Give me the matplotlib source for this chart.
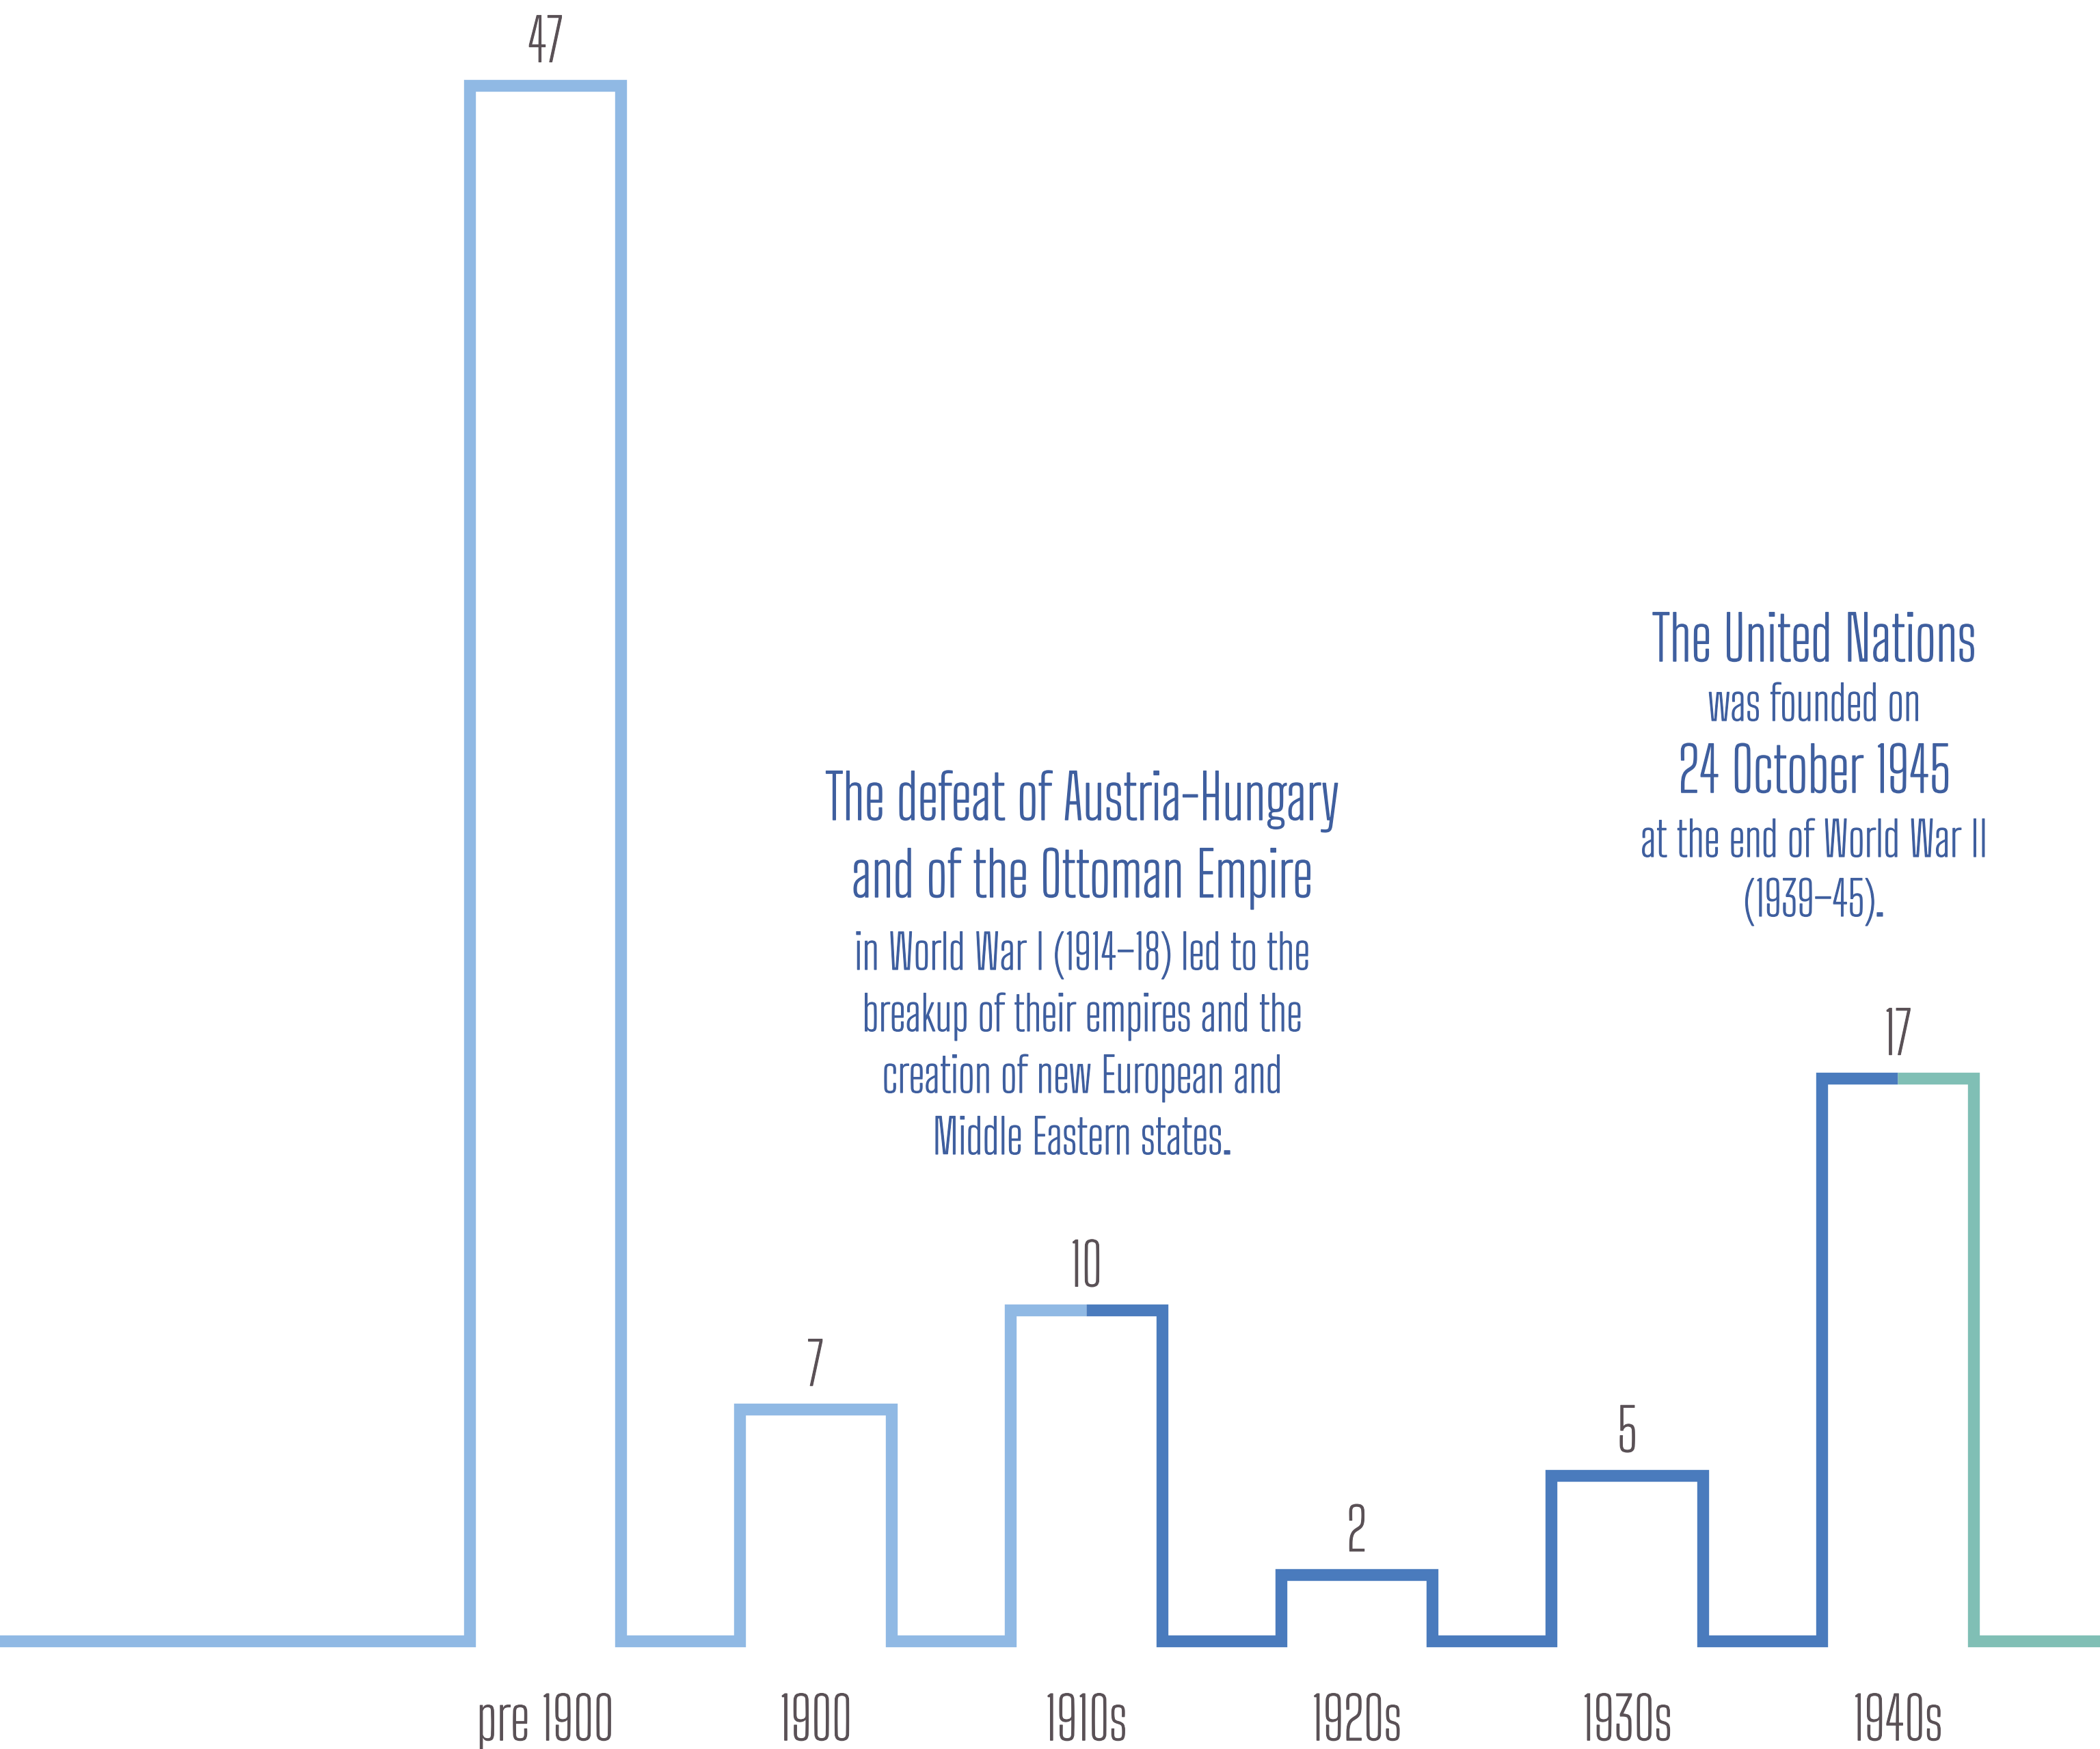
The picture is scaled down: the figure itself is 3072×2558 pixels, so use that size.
import matplotlib
matplotlib.use('Agg')
import matplotlib.pyplot as plt
import matplotlib.patheffects as pe
from matplotlib import font_manager
from matplotlib.font_manager import FontProperties
from matplotlib.textpath import TextPath

categories = ['pre 1900', '1900', '1910s', '1920s', '1930s', '1940s']
values = [47, 7, 10, 2, 5, 17]
# colour changes at the middle of the top of these bars
break_bars = [2, 5]
seg_colors = ['#90b9e4', '#4a7bbd', '#80bfb5']

austria_lines = [
    ('The defeat of Austria-Hungary', 'big'),
    ('and of the Ottoman Empire', 'big'),
    ('in World War I (1914\u201318) led to the', 'small'),
    ('breakup of their empires and the', 'small'),
    ('creation of new European and', 'small'),
    ('Middle Eastern states.', 'small'),
]
un_lines = [
    ('The United Nations', 'big'),
    ('was founded on', 'small'),
    ('24 October 1945', 'big'),
    ('at the end of World War II', 'small'),
    ('(1939\u201345).', 'small'),
]

TEXT_BLUE = '#3f5f9f'
LABEL_GREY = '#5a5156'
DPI = 100

names = {f.name for f in font_manager.fontManager.ttflist}
FAMILY = next((f for f in ['Big Shoulders Text', 'Saira ExtraCondensed', 'Barlow Condensed']
               if f in names), 'DejaVu Sans')


def size_for_width(text, width_px):
    # font size (pt) that makes `text` roughly width_px wide
    w = TextPath((0, 0), text, size=100, prop=FontProperties(family=FAMILY)).get_extents().width
    return width_px / w * 100 * 72 / DPI


def bolder(color, lw):
    # the installed condensed face is thinner than the original, thicken it a bit
    return [pe.withStroke(linewidth=lw, foreground=color)]


def step_path(vals, hw, x_start, x_end):
    xs, ys, mids = [x_start], [0], []
    for i, v in enumerate(vals):
        xs += [i - hw, i - hw, i, i + hw, i + hw]
        ys += [0, v, v, v, 0]
        mids.append(len(xs) - 3)
    xs.append(x_end)
    ys.append(0)
    return xs, ys, mids


BIG = size_for_width(austria_lines[0][0], 748)
SMALL = size_for_width(austria_lines[2][0], 660)
LABEL = size_for_width('1940s', 124)

fig = plt.figure(figsize=(30.72, 25.58), dpi=DPI)
ax = fig.add_axes([0, 0, 1, 1])
ax.set_xlim(-2.015, 5.748)
ax.set_ylim(-3.26, 49.59)
ax.axis('off')

xs, ys, mids = step_path(values, 0.28, -2.2, 6.0)
cuts = [0] + [mids[b] for b in break_bars] + [len(xs) - 1]
for k, color in enumerate(seg_colors):
    a, b = cuts[k], cuts[k + 1] + 1
    ax.plot(xs[a:b], ys[a:b], color=color, lw=12.5,
            solid_joinstyle='miter', solid_capstyle='butt')

for i, (cat, v) in enumerate(zip(categories, values)):
    ax.annotate(str(v), (i, v), xytext=(0, 25), textcoords='offset points',
                ha='center', va='baseline', color=LABEL_GREY, family=FAMILY, fontsize=LABEL,
                path_effects=bolder(LABEL_GREY, 0.8))
    ax.text(i, 0.005, cat, transform=ax.get_xaxis_transform(),
            ha='center', va='baseline', color=LABEL_GREY, family=FAMILY, fontsize=LABEL,
            path_effects=bolder(LABEL_GREY, 0.8))

# annotation blocks, baselines in figure pixels from the top
austria_y = [1199, 1312, 1418, 1508, 1598, 1688]
for (txt, kind), y in zip(austria_lines, austria_y):
    fig.text(1583 / 3072, 1 - y / 2558, txt, ha='center', va='baseline', color=TEXT_BLUE,
             family=FAMILY, fontsize=BIG if kind == 'big' else SMALL,
             path_effects=bolder(TEXT_BLUE, 1.1 if kind == 'big' else 0.9))

un_y = [967, 1054, 1159, 1253, 1340]
for (txt, kind), y in zip(un_lines, un_y):
    fig.text(2654 / 3072, 1 - y / 2558, txt, ha='center', va='baseline', color=TEXT_BLUE,
             family=FAMILY, fontsize=BIG if kind == 'big' else SMALL,
             path_effects=bolder(TEXT_BLUE, 1.1 if kind == 'big' else 0.9))

fig.savefig('out.png', dpi=DPI, facecolor='white')
